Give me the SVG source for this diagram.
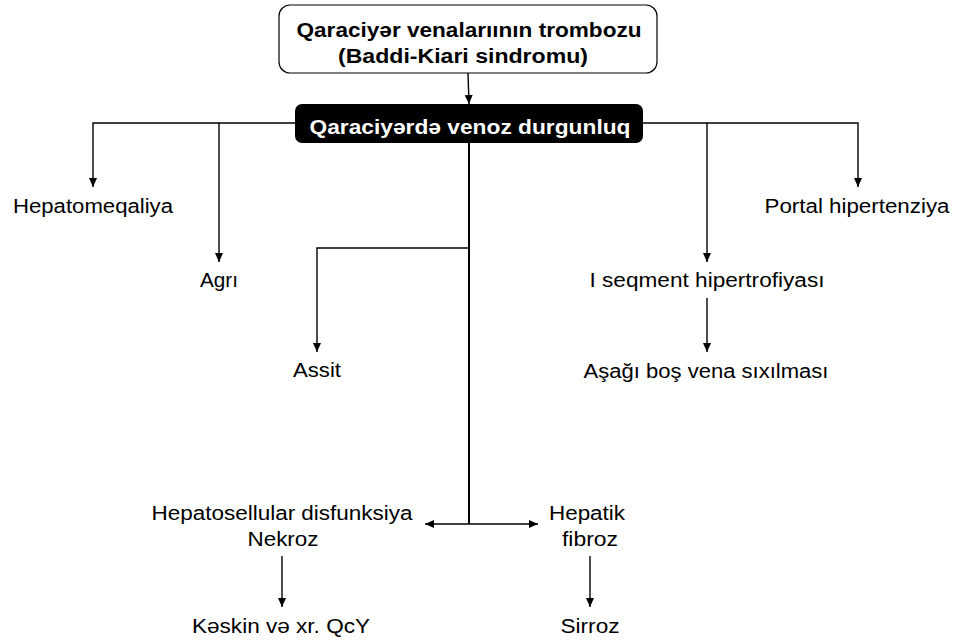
<svg xmlns="http://www.w3.org/2000/svg" width="956" height="641" viewBox="0 0 956 641">
  <style>
    .lbl { font-family: "Liberation Sans", Arial, sans-serif; font-size: 19.5px; fill: #000; text-anchor: middle; }
    .bold { font-family: "Liberation Sans", Arial, sans-serif; font-size: 20px; font-weight: bold; text-anchor: middle; }
    .wire { fill: none; stroke: #000; stroke-width: 1.4; }
    .trunk { fill: none; stroke: #000; stroke-width: 2; }
  </style>
  <defs>
    <marker id="arrow" markerUnits="userSpaceOnUse" markerWidth="10" markerHeight="10" viewBox="0 0 10 10" refX="9" refY="5" orient="auto">
      <path d="M0,1 L9,5 L0,9 Z" fill="#000"/>
    </marker>
  </defs>
  <rect width="956" height="641" fill="#fff"/>

  <!-- connectors -->
  <g id="connectors">
    <path class="wire" d="M468,73 L469,104" marker-end="url(#arrow)"/>
    <path class="wire" d="M295,123 H93 V187" marker-end="url(#arrow)"/>
    <path class="wire" d="M219,123 V262" marker-end="url(#arrow)"/>
    <path class="wire" d="M643,123 H858 V187" marker-end="url(#arrow)"/>
    <path class="wire" d="M707,123 V262" marker-end="url(#arrow)"/>
    <path class="trunk" d="M469,143 V524"/>
    <path class="wire" d="M469,248 H317 V352" marker-end="url(#arrow)"/>
    <path class="wire" d="M707,298 V352" marker-end="url(#arrow)"/>
    <path class="wire" d="M469,524 H425" marker-end="url(#arrow)"/>
    <path class="wire" d="M469,524 H538" marker-end="url(#arrow)"/>
    <path class="wire" d="M282,556 V607" marker-end="url(#arrow)"/>
    <path class="wire" d="M590,556 V607" marker-end="url(#arrow)"/>
  </g>

  <!-- nodes -->
  <g id="thrombosis">
    <rect x="279" y="5" width="378" height="68" rx="11" fill="#fff" stroke="#000" stroke-width="1.2"/>
    <text class="bold" x="469" y="37" textLength="345" lengthAdjust="spacingAndGlyphs">Qaraciyər venalarıının trombozu</text>
    <text class="bold" x="463" y="63" textLength="250" lengthAdjust="spacingAndGlyphs">(Baddi-Kiari sindromu)</text>
  </g>
  <g id="congestion">
    <rect x="295" y="104" width="348" height="39" rx="7" fill="#000"/>
    <text class="bold" x="470" y="134" fill="#fff" textLength="321" lengthAdjust="spacingAndGlyphs">Qaraciyərdə venoz durgunluq</text>
  </g>
  <g id="hepatomegaly">
    <text class="lbl" x="93" y="213" textLength="160" lengthAdjust="spacingAndGlyphs">Hepatomeqaliya</text>
  </g>
  <g id="pain">
    <text class="lbl" x="219" y="287" textLength="38" lengthAdjust="spacingAndGlyphs">Agrı</text>
  </g>
  <g id="ascites">
    <text class="lbl" x="317" y="377" textLength="48" lengthAdjust="spacingAndGlyphs">Assit</text>
  </g>
  <g id="portal-hypertension">
    <text class="lbl" x="857" y="213" textLength="185" lengthAdjust="spacingAndGlyphs">Portal hipertenziya</text>
  </g>
  <g id="segment-hypertrophy">
    <text class="lbl" x="707" y="287" textLength="235" lengthAdjust="spacingAndGlyphs">I seqment hipertrofiyası</text>
  </g>
  <g id="ivc-compression">
    <text class="lbl" x="706" y="378" textLength="245" lengthAdjust="spacingAndGlyphs">Aşağı boş vena sıxılması</text>
  </g>
  <g id="hepatocellular">
    <text class="lbl" x="282" y="520" textLength="261" lengthAdjust="spacingAndGlyphs">Hepatosellular disfunksiya</text>
    <text class="lbl" x="283" y="546" textLength="71" lengthAdjust="spacingAndGlyphs">Nekroz</text>
  </g>
  <g id="fibrosis">
    <text class="lbl" x="587" y="520" textLength="76" lengthAdjust="spacingAndGlyphs">Hepatik</text>
    <text class="lbl" x="590" y="546" textLength="56" lengthAdjust="spacingAndGlyphs">fibroz</text>
  </g>
  <g id="liver-failure">
    <text class="lbl" x="281" y="633" textLength="178" lengthAdjust="spacingAndGlyphs">Kəskin və xr. QcY</text>
  </g>
  <g id="cirrhosis">
    <text class="lbl" x="590" y="633" textLength="59" lengthAdjust="spacingAndGlyphs">Sirroz</text>
  </g>
</svg>
